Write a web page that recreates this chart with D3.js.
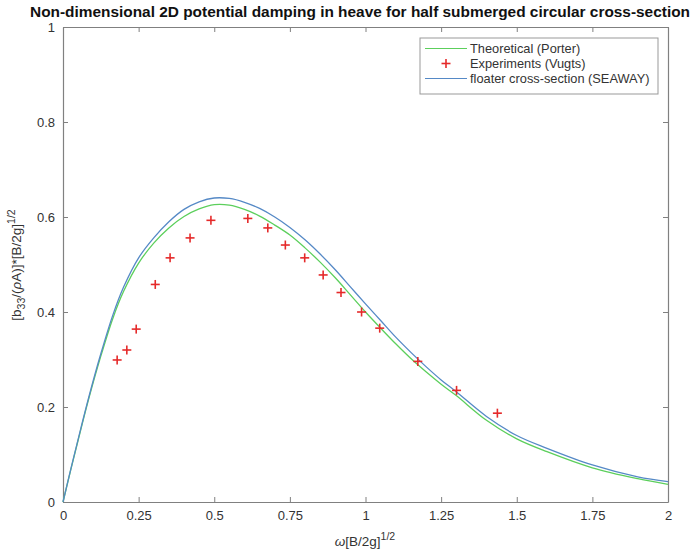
<!DOCTYPE html>
<html><head><meta charset="utf-8">
<script src="https://cdn.jsdelivr.net/npm/d3@7"></script>
<style>body{margin:0;background:#fff;} svg{display:block;font-family:"Liberation Sans",Arial,sans-serif;}</style>
</head><body>
<svg id="c" width="694" height="553"></svg>
<script>
// ---- data ----
const omegaCurve = [0,0.025,0.05,0.085,0.125,0.165,0.2,0.25,0.3,0.35,0.4,0.45,0.5,0.55,0.6,0.65,0.7,0.75,0.8,0.85,0.9,0.95,1.0,1.05,1.1,1.15,1.2,1.25,1.3,1.4,1.5,1.6,1.75,1.9,2.0];
const porter = [0,0.066,0.13,0.217,0.307,0.387,0.443,0.503,0.545,0.577,0.601,0.617,0.626,0.625,0.616,0.602,0.583,0.562,0.535,0.505,0.472,0.436,0.400,0.366,0.333,0.302,0.274,0.248,0.224,0.172,0.133,0.106,0.072,0.049,0.037];
const seaway = [0,0.067,0.132,0.22,0.312,0.394,0.452,0.514,0.556,0.59,0.616,0.632,0.640,0.639,0.631,0.618,0.6,0.578,0.552,0.522,0.489,0.453,0.417,0.382,0.347,0.315,0.285,0.257,0.232,0.18,0.14,0.113,0.078,0.053,0.043];
const expOmega = [0.179,0.211,0.242,0.305,0.354,0.42,0.489,0.611,0.677,0.735,0.799,0.86,0.919,0.987,1.047,1.173,1.301,1.436];
const expB33 = [0.299,0.32,0.364,0.458,0.514,0.556,0.593,0.597,0.577,0.541,0.514,0.478,0.441,0.40,0.366,0.296,0.235,0.187];
const xTicks = [0,0.25,0.5,0.75,1,1.25,1.5,1.75,2];
const xTickLabels = ["0","0.25","0.5","0.75","1","1.25","1.5","1.75","2"];
const yTicks = [0,0.2,0.4,0.6,0.8,1];
const yTickLabels = ["0","0.2","0.4","0.6","0.8","1"];
const seriesNames = ["Theoretical (Porter)","Experiments (Vugts)","floater cross-section (SEAWAY)"];
const colors = {green:"#5ccf5c", blue:"#5589c6", red:"#e52a2a", axis:"#808080", text:"#333"};

// ---- layout ----
const svg = d3.select("#c");
const L=63, R=668, T=27, B=502;
const x = d3.scaleLinear().domain([0,2]).range([L,R]);
const y = d3.scaleLinear().domain([0,1]).range([B,T]);

const tickLen=5;
const gx = svg.append("g").attr("transform",`translate(0,${B})`)
  .call(d3.axisBottom(x).tickValues(xTicks).tickFormat((d,i)=>xTickLabels[i]).tickSizeInner(-tickLen).tickSizeOuter(0).tickPadding(9));
const gxt = svg.append("g").attr("transform",`translate(0,${T})`)
  .call(d3.axisTop(x).tickValues(xTicks).tickFormat("").tickSizeInner(-tickLen).tickSizeOuter(0));
const gy = svg.append("g").attr("transform",`translate(${L},0)`)
  .call(d3.axisLeft(y).tickValues(yTicks).tickFormat((d,i)=>yTickLabels[i]).tickSizeInner(-tickLen).tickSizeOuter(0).tickPadding(8));
const gyr = svg.append("g").attr("transform",`translate(${R},0)`)
  .call(d3.axisRight(y).tickValues(yTicks).tickFormat("").tickSizeInner(-tickLen).tickSizeOuter(0));
[gx,gxt,gy,gyr].forEach(g=>{
  g.selectAll(".domain").attr("stroke",colors.axis).attr("stroke-width",1.2);
  g.selectAll(".tick line").attr("stroke",colors.axis);
  g.selectAll(".tick text").attr("fill",colors.text).attr("font-size",13);
});

// curves
const line = d3.line().x((d,i)=>x(omegaCurve[i])).y(d=>y(d)).curve(d3.curveCatmullRom.alpha(0.5));
svg.append("path").datum(porter).attr("d",line).attr("fill","none").attr("stroke",colors.green).attr("stroke-width",1.3);
svg.append("path").datum(seaway).attr("d",line).attr("fill","none").attr("stroke",colors.blue).attr("stroke-width",1.3);

// experiment markers
const plus = (sel,cx,cy,s)=>{
  sel.append("line").attr("x1",cx-s).attr("x2",cx+s).attr("y1",cy).attr("y2",cy);
  sel.append("line").attr("x1",cx).attr("x2",cx).attr("y1",cy-s).attr("y2",cy+s);
};
const gm = svg.append("g").attr("stroke",colors.red).attr("stroke-width",1.6);
expOmega.forEach((w,i)=>plus(gm,x(w),y(expB33[i]),4.5));

// legend
const lg = svg.append("g");
lg.append("rect").attr("x",420).attr("y",38).attr("width",238).attr("height",56).attr("fill","#fff").attr("stroke","#999").attr("stroke-width",1);
const rows=[48.5,63.5,78.5];
lg.append("line").attr("x1",425).attr("x2",467).attr("y1",rows[0]).attr("y2",rows[0]).attr("stroke",colors.green).attr("stroke-width",1.2);
const lm = lg.append("g").attr("stroke",colors.red).attr("stroke-width",1.6); plus(lm,446,rows[1],4.5);
lg.append("line").attr("x1",425).attr("x2",467).attr("y1",rows[2]).attr("y2",rows[2]).attr("stroke",colors.blue).attr("stroke-width",1.2);
seriesNames.forEach((n,i)=>lg.append("text").attr("x",470).attr("y",rows[i]+4.5).attr("font-size",12.8).attr("fill",colors.text).text(n));

// title
svg.append("text").attr("x",30).attr("y",17).attr("text-anchor","start").attr("font-weight","bold").attr("font-size",15.5).attr("fill","#111")
  .attr("textLength",660).attr("lengthAdjust","spacingAndGlyphs")
  .text("Non-dimensional 2D potential damping in heave for half submerged circular cross-section");

// x label
const xl = svg.append("text").attr("x",365).attr("y",546).attr("text-anchor","middle").attr("font-size",13.5).attr("fill",colors.text);
xl.append("tspan").attr("font-style","italic").text("ω");
xl.append("tspan").text("[B/2g]");
xl.append("tspan").attr("dy",-6).attr("font-size",10.5).text("1/2");

// y label
const yl = svg.append("text").attr("transform","translate(21,265) rotate(-90)").attr("text-anchor","middle").attr("font-size",13.5).attr("fill",colors.text);
yl.append("tspan").text("[b");
yl.append("tspan").attr("dy",4).attr("font-size",10.5).text("33");
yl.append("tspan").attr("dy",-4).text("/(");
yl.append("tspan").attr("font-style","italic").text("ρ");
yl.append("tspan").text("A)]*[B/2g]");
yl.append("tspan").attr("dy",-6).attr("font-size",10.5).text("1/2");
</script>
</body></html>
